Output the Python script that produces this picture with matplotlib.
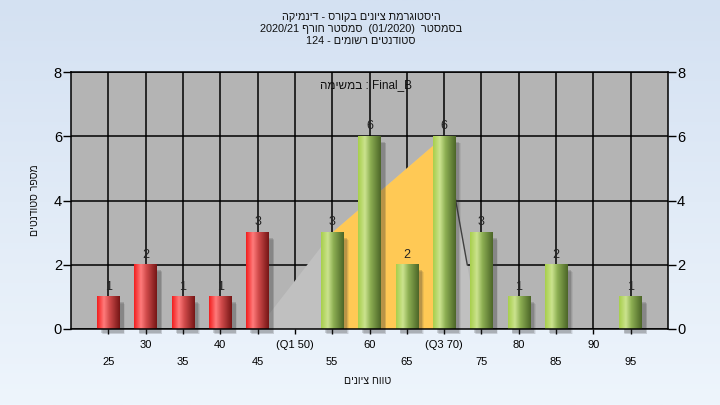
import re
import numpy as np
import matplotlib
matplotlib.use("Agg")
import matplotlib.pyplot as plt
from matplotlib.colors import LinearSegmentedColormap
from matplotlib.patches import Rectangle, Polygon

plt.rcParams['font.family'] = ['Liberation Sans', 'DejaVu Sans']

# Data
bins = [25, 30, 35, 40, 45, 50, 55, 60, 65, 70, 75, 80, 85, 90, 95]
counts = [1, 2, 1, 1, 3, 0, 3, 6, 2, 6, 3, 1, 2, 0, 1]
pass_mark = 50
upper_ticks = [30, 40, 50, 60, 70, 80, 90]
upper_labels = ["30", "40", "(Q1 50)", "60", "(Q3 70)", "80", "90"]
lower_ticks = [25, 35, 45, 55, 65, 75, 85, 95]
lower_labels = ["25", "35", "45", "55", "65", "75", "85", "95"]

# distribution outline drawn behind the bars
area_x = [45, 55, 70, 73.1, 74.6]
area_y = [0, 3, 6, 2, 0]
iqr_x = [55, 70]

title_lines = [
    "היסטוגרמת ציונים בקורס - דינמיקה",
    "בסמסטר  (01/2020)  סמסטר חורף 2020/21",
    "סטודנטים רשומים - 124",
]
task_label = "במשימה : Final_B"
x_title = "טווח ציונים"
y_title = "מספר סטודנטים"

HEB = r'[\u0590-\u05FF]'
LTR = r'[A-Za-z0-9]'


def heb(s, rtl=True):
    # crude bidi so hebrew shows right-to-left
    toks = re.findall(r'[\u0590-\u05FF]+|[A-Za-z0-9_./]+|[^\u0590-\u05FFA-Za-z0-9_./]+', s)
    if not rtl:
        return ''.join(t[::-1] if re.match(HEB, t) else t for t in toks)
    mirror = str.maketrans('()', ')(')
    out = []
    for t in reversed(toks):
        out.append(t if re.match(LTR, t) else t[::-1].translate(mirror))
    return ''.join(out)


fig = plt.figure(figsize=(7.2, 4.05), dpi=100)

# background gradient
bg = fig.add_axes([0, 0, 1, 1], zorder=-10)
grad = np.linspace(0, 1, 256).reshape(-1, 1)
bg_cmap = LinearSegmentedColormap.from_list("bg", ["#d4e1f2", "#eef5fc"])
bg.imshow(grad, cmap=bg_cmap, aspect="auto", extent=[0, 1, 0, 1])
bg.set_axis_off()

ax = fig.add_axes([71 / 720, 1 - 329 / 405, 597 / 720, 257 / 405])
ax.set_facecolor("#b4b4b4")
ax.set_xlim(20, 100)
ax.set_ylim(0, 8)

# grid
ax.set_xticks(upper_ticks, labels=upper_labels)
ax.set_xticks(lower_ticks, labels=lower_labels, minor=True)
ax.set_yticks([0, 2, 4, 6, 8])
ax.grid(True, which="both", color="black", linewidth=1.1, zorder=0)
ax.set_axisbelow(True)

# distribution area
ax.add_patch(Polygon(list(zip(area_x, area_y)), closed=True, facecolor="#c0c0c0",
                     edgecolor="none", zorder=1))
ix = np.array(iqr_x, dtype=float)
iy = np.interp(ix, area_x, area_y)
ax.add_patch(Polygon([(ix[0], 0), (ix[0], iy[0]), (ix[1], iy[1]), (ix[1], 0)],
                     closed=True, facecolor="#ffc955", edgecolor="none", zorder=1.5))
ax.plot(area_x[2:4], area_y[2:4], color="#404040", linewidth=1, zorder=1.6)

red_cmap = LinearSegmentedColormap.from_list(
    "red", [(0, "#f21e1e"), (0.3, "#ff7b7b"), (0.55, "#d04a4a"), (1, "#761616")])
green_cmap = LinearSegmentedColormap.from_list(
    "green", [(0, "#a8cf4c"), (0.3, "#cbe38e"), (0.55, "#8cae52"), (1, "#4c6628")])

hgrad = np.linspace(0, 1, 64).reshape(1, -1)
w = 3.0
for b, c in zip(bins, counts):
    if c == 0:
        continue
    # soft shadow
    for k, a in enumerate([0.08, 0.12, 0.18]):
        d = 0.25 * k
        ax.add_patch(Rectangle((b - w / 2 + 0.75 - d * 0.4, -0.17 + d * 0.1), w, c - 0.05,
                               facecolor="#303030", alpha=a, edgecolor="none",
                               zorder=2, clip_on=False))
    cmap = red_cmap if b < pass_mark else green_cmap
    ax.imshow(hgrad, cmap=cmap, aspect="auto", extent=[b - w / 2, b + w / 2, 0, c],
              zorder=3, interpolation="bilinear")
    ax.annotate(str(c), (b, c), xytext=(0, 3), textcoords="offset points",
                ha="center", va="bottom", fontsize=9, color="#222222", zorder=4)

ax.set_xlim(20, 100)
ax.set_ylim(0, 8)

for s in ax.spines.values():
    s.set_color("black")
    s.set_linewidth(1.1)
    s.set_zorder(5)

ax.tick_params(axis="y", which="major", left=True, right=True, labelleft=True,
               labelright=True, length=5.5, width=1, pad=1, labelsize=10.5,
               colors="black")
ax.tick_params(axis="x", which="major", length=3.5, width=1, pad=4.5, labelsize=8)
ax.tick_params(axis="x", which="minor", length=3.5, width=1, pad=17, labelsize=8)

ax.text((366 - 71) / 597, 0.949, heb(task_label, rtl=False), transform=ax.transAxes,
        ha="center", va="center", fontsize=8.5, color="#111111", zorder=6)

for i, line in enumerate(title_lines):
    fig.text(361 / 720, 1 - (17.5 + 12 * i) / 405, heb(line), ha="center",
             va="center", fontsize=7.8, color="#111111")

fig.text(368 / 720, 1 - 381 / 405, heb(x_title), ha="center", va="center",
         fontsize=7.6, color="#111111")
fig.text(34.5 / 720, 1 - 200 / 405, heb(y_title), ha="center", va="center",
         rotation=90, fontsize=7.6, color="#111111")

fig.savefig("out.png", dpi=100)
